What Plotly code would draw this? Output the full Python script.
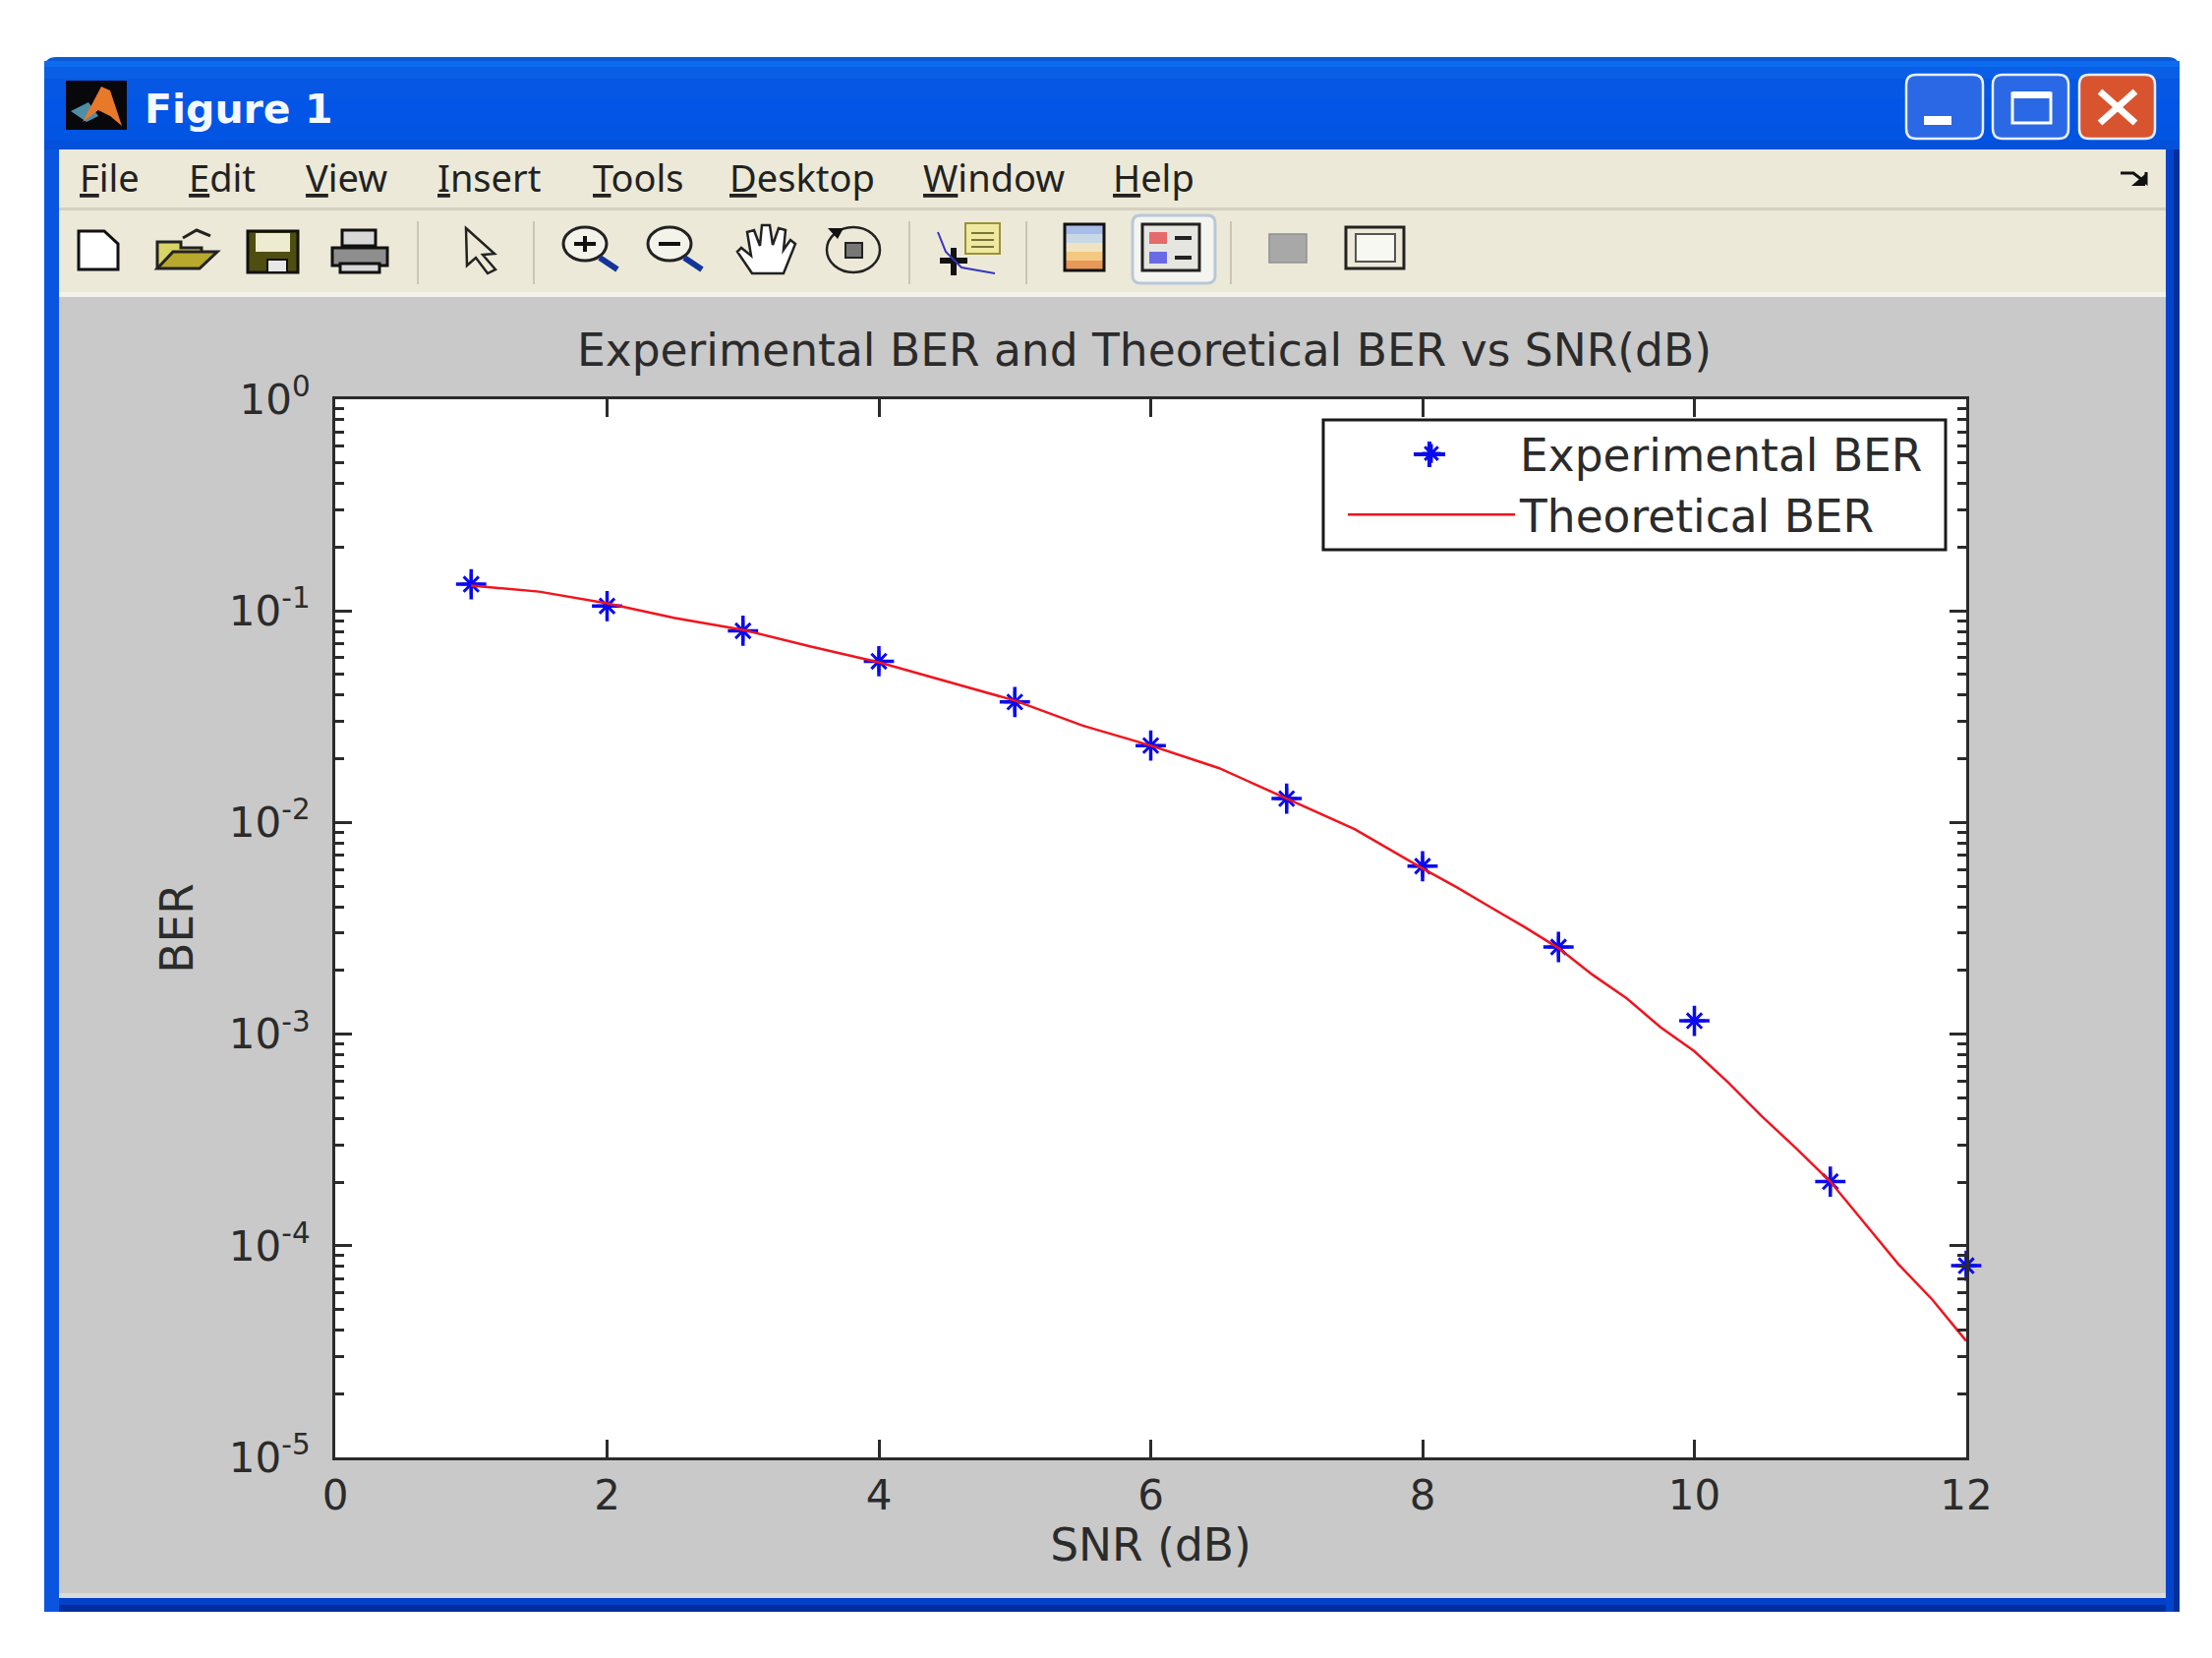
import plotly.graph_objects as go

# ---- chart data ----
snr_exp = [1, 2, 3, 4, 5, 6, 7, 8, 9, 10, 11, 12]
ber_exp = [0.1337, 0.1054, 0.0805, 0.0578, 0.0371, 0.0231, 0.01297, 0.00622,
           0.00258, 0.001156, 0.000201, 0.0000805]
snr_theory = [1, 1.5, 2, 2.5, 3, 3.5, 4, 4.5, 5, 5.5, 6, 6.5, 7, 7.5, 8, 8.25, 8.5, 8.75,
              9, 9.25, 9.5, 9.75, 10, 10.25, 10.5, 10.75, 11, 11.25, 11.5, 11.75, 12]
ber_theory = [0.1315, 0.1233, 0.1085, 0.0925, 0.0813, 0.0678, 0.0571, 0.0464,
              0.0377, 0.0287, 0.0231, 0.0181, 0.01296, 0.00931, 0.00607, 0.00495, 0.00398, 0.00321,
              0.00255, 0.00191, 0.00148, 0.00108, 0.00083, 0.00059, 0.000407, 0.000288,
              0.000201, 0.000128, 0.000082, 0.0000557, 0.0000355]
series_names = ["Experimental BER", "Theoretical BER"]
y_ticks = [1e-5, 1e-4, 1e-3, 1e-2, 1e-1, 1]
y_labels = ["10<sup>-5</sup>", "10<sup>-4</sup>", "10<sup>-3</sup>", "10<sup>-2</sup>", "10<sup>-1</sup>", "10<sup>0</sup>"]
x_ticks = [0, 2, 4, 6, 8, 10, 12]
menu_items = ["File", "Edit", "View", "Insert", "Tools", "Desktop", "Window", "Help"]
menu_left = [79, 190, 309, 443, 601, 740, 937, 1130]
chart_title = "Experimental BER and Theoretical BER vs SNR(dB)"
window_title = "Figure 1"

# ---- plot frame in pixels ----
W, H = 2250, 1686
L, R, T, B = 341, 2000, 406, 1482
FONT = "DejaVu Sans"
UI = "Noto Sans"
INK = "#2b2b2b"


def px(x):
    return (x - L) / (R - L)


def py(y):
    return (B - y) / (B - T)


shapes = []


def rect(x0, y0, x1, y1, fill=None, line=None, lw=0):
    shapes.append(dict(type="rect", xref="paper", yref="paper", x0=px(x0), x1=px(x1),
                       y0=py(y0), y1=py(y1), fillcolor=fill or "rgba(0,0,0,0)",
                       line=dict(color=line or "rgba(0,0,0,0)", width=lw), layer="below"))


def rrect(x0, y0, x1, y1, r, fill=None, line=None, lw=0):
    P = lambda x, y: f"{px(x):.5f},{py(y):.5f}"
    d = (f"M{P(x0 + r, y0)} L{P(x1 - r, y0)} Q{P(x1, y0)} {P(x1, y0 + r)} L{P(x1, y1 - r)} "
         f"Q{P(x1, y1)} {P(x1 - r, y1)} L{P(x0 + r, y1)} Q{P(x0, y1)} {P(x0, y1 - r)} "
         f"L{P(x0, y0 + r)} Q{P(x0, y0)} {P(x0 + r, y0)} Z")
    shapes.append(dict(type="path", xref="paper", yref="paper", path=d, fillcolor=fill or "rgba(0,0,0,0)",
                       line=dict(color=line or "rgba(0,0,0,0)", width=lw), layer="below"))


def poly(points, fill=None, line=None, lw=0, close=True):
    d = "M" + " L".join(f"{px(x):.5f},{py(y):.5f}" for x, y in points) + (" Z" if close else "")
    shapes.append(dict(type="path", xref="paper", yref="paper", path=d,
                       fillcolor=fill or "rgba(0,0,0,0)",
                       line=dict(color=line or "rgba(0,0,0,0)", width=lw), layer="below"))


def oval(cx, cy, rx, ry, fill=None, line=None, lw=0):
    shapes.append(dict(type="circle", xref="paper", yref="paper", x0=px(cx - rx), x1=px(cx + rx),
                       y0=py(cy - ry), y1=py(cy + ry), fillcolor=fill or "rgba(0,0,0,0)",
                       line=dict(color=line or "rgba(0,0,0,0)", width=lw), layer="below"))


def bands(x0, x1, stops):
    for (y0, y1, c) in stops:
        rect(x0, y0, x1, y1, fill=c)


# ---- window frame ----
rect(45, 70, 2217, 1639, fill="#0A3FC8")
rect(45, 1625, 2217, 1639, fill="#0440C8")
rect(45, 1632, 2217, 1639, fill="#022E9E")
rect(45, 70, 60, 1639, fill="#0A55E0")
rect(2203, 70, 2217, 1639, fill="#0344CC")
rect(2211, 70, 2217, 1639, fill="#02309A")
rrect(45, 58, 2217, 110, 12, fill="#0A5CD6")
bands(45, 2217, [(62, 68, "#0C6BEE"), (68, 80, "#0A5FE6"), (80, 100, "#0657E4"),
                 (100, 125, "#0255E6"), (125, 143, "#0254E2"), (143, 152, "#0350DA")])

# menu bar, toolbar, figure panel
rect(60, 152, 2203, 213, fill="#ECE9D8")
rect(60, 211, 2203, 214, fill="#D4D0C0")
rect(60, 214, 2203, 298, fill="#ECE9D8")
rect(60, 297, 2203, 302, fill="#F4F3EA")
rect(60, 302, 2203, 1625, fill="#C9C9C9")
rect(60, 1620, 2203, 1625, fill="#DADADA")
rect(L, T, R, B, fill="white")

# legend box, and the long arms of its star marker (under the legend's own symbol)
rect(1346, 427, 1979, 559, fill="white", line="#1a1a1a", lw=3)
rect(1452, 449, 1456, 475, fill="#0A0AF0")
rect(1438, 460, 1470, 464, fill="#0A0AF0")

# matlab icon
rect(67, 82, 129, 132, fill="#08080C")
poly([(72, 113), (90, 104), (100, 118), (88, 124)], fill="#4E8FA8")
poly([(84, 124), (103, 88), (112, 92), (124, 128), (112, 118), (100, 112)], fill="#E8782A")

# window buttons
for x0, x1, col in [(1939, 2017, "#2A68E6"), (2027, 2104, "#2A68E6"), (2115, 2192, "#D8542E")]:
    rrect(x0, 76, x1, 141, 10, fill=col, line="#E8EEFA", lw=2.5)
rect(1957, 118, 1985, 127, fill="white")
rect(2047, 95, 2086, 125, line="white", lw=3)
rect(2047, 93, 2086, 100, fill="white")
poly([(2136, 93), (2172, 125)], line="white", lw=7, close=False)
poly([(2172, 93), (2136, 125)], line="white", lw=7, close=False)

# overflow arrow
poly([(2157, 176), (2170, 176), (2183, 186), (2183, 175)], line="#111", lw=3, close=False)
poly([(2182, 189), (2168, 189), (2182, 177)], fill="#111")

# toolbar separators
for xs in [425, 543, 925, 1044, 1252]:
    rect(xs - 1, 225, xs + 1, 289, fill="#C9C6B4")

# new document
poly([(80, 235), (106, 235), (120, 248), (120, 274), (80, 274)], fill="white", line="#111", lw=3)
# open folder
poly([(160, 272), (160, 246), (184, 246), (184, 252), (205, 252), (205, 258)], fill="#D8D468", line="#222", lw=3)
poly([(160, 273), (176, 256), (221, 256), (203, 273)], fill="#B8A82C", line="#222", lw=3)
poly([(186, 242), (200, 234), (214, 240)], line="#222", lw=3, close=False)
# save
rect(252, 235, 303, 277, fill="#4E4E10", line="#111", lw=3)
rect(260, 237, 295, 256, fill="#EDEBD0")
rect(272, 264, 292, 277, fill="#E8E8E8", line="#111", lw=2)
# print
rect(348, 234, 382, 250, fill="#D8D8D8", line="#111", lw=3)
poly([(338, 252), (394, 252), (394, 270), (338, 270)], fill="#8E8E8E", line="#111", lw=3)
rect(346, 268, 386, 277, fill="#D8D8D8", line="#111", lw=3)
# arrow
poly([(474, 232), (503, 258), (491, 259), (504, 274), (496, 278), (484, 262), (475, 270)],
     fill="#ECE9D8", line="#222", lw=2.5)
# zoom in / out
for cx, plus in [(595, True), (681, False)]:
    oval(cx, 248, 22, 17, fill="#F4F3EA", line="#222", lw=3)
    poly([(cx + 15, 262), (cx + 33, 274)], line="#14349A", lw=6, close=False)
    rect(cx - 11, 246, cx + 11, 250, fill="#111")
    if plus:
        rect(cx - 2, 240, cx + 2, 256, fill="#111")
# hand
poly([(765, 278), (750, 256), (754, 252), (764, 260), (760, 236), (767, 234), (773, 250),
      (775, 229), (783, 229), (786, 249), (792, 232), (799, 234), (797, 254), (804, 244),
      (809, 248), (797, 278)], fill="white", line="#222", lw=2.5)
# rotate
oval(868, 254, 27, 23, fill="#ECE9D8", line="#222", lw=2.5)
rect(860, 247, 877, 262, fill="#777", line="#222", lw=2)
poly([(842, 232), (858, 232), (852, 243)], fill="#111")
# data cursor
rect(982, 227, 1017, 258, fill="#F0E8A0", line="#99933A", lw=2)
for yl in [236, 243, 250]:
    rect(988, yl, 1011, yl + 2, fill="#77763a")
rect(967, 252, 973, 280, fill="#111")
rect(956, 262, 984, 268, fill="#111")
poly([(954, 236), (962, 256), (978, 272), (1012, 278)], line="#3636C0", lw=2, close=False)
# colorbar
bands(1084, 1122, [(229, 238, "#A8BCE8"), (238, 247, "#C8D8E8"), (247, 256, "#F0E4C0"),
                   (256, 265, "#F4C880"), (265, 274, "#E89858")])
rect(1083, 228, 1123, 275, line="#111", lw=3)
# legend toggle (pressed)
rrect(1152, 219, 1236, 288, 8, fill="#F4F5F0", line="#B8C8D8", lw=3)
rect(1162, 228, 1220, 275, fill="#E6E6E0", line="#222", lw=3)
rect(1169, 236, 1187, 248, fill="#E66A6A")
rect(1169, 256, 1187, 268, fill="#6A6AE6")
rect(1195, 240, 1212, 244, fill="#222")
rect(1195, 260, 1212, 264, fill="#222")
# hide plot tools / show plot tools
rect(1291, 238, 1329, 267, fill="#A8A8A8", line="#909090", lw=1.5)
rect(1369, 231, 1428, 273, fill="#ECE9D8", line="#222", lw=3)
rect(1379, 238, 1419, 266, fill="#F8F8F2", line="#555", lw=2)

# ---- window text ----
annotations = [dict(text=f"<b>{window_title}</b>", x=px(145), y=py(111), xref="paper", yref="paper",
                    xanchor="left", yanchor="middle", showarrow=False,
                    font=dict(family="DejaVu Sans", size=41, color="#F4F8FF"))]
for item, left in zip(menu_items, menu_left):
    annotations.append(dict(text=f"<u>{item[0]}</u>{item[1:]}", x=px(left), y=py(180), xref="paper", yref="paper",
                            xanchor="left", yanchor="middle", showarrow=False,
                            font=dict(family=UI, size=38, color="#222")))

# ---- the chart itself ----
fig = go.Figure()
fig.add_trace(go.Scatter(x=snr_exp, y=ber_exp, mode="markers", name=series_names[0], cliponaxis=False,
                         marker=dict(symbol="asterisk-open", size=18, color="#0A0AF0",
                                     line=dict(color="#0A0AF0", width=3))))
fig.add_trace(go.Scatter(x=snr_exp, y=ber_exp, mode="markers", showlegend=False, cliponaxis=False,
                         hoverinfo="skip",
                         marker=dict(symbol="cross-thin-open", size=22, color="#0A0AF0",
                                     line=dict(color="#0A0AF0", width=3.5))))
fig.add_trace(go.Scatter(x=snr_theory, y=ber_theory, mode="lines", name=series_names[1], cliponaxis=False,
                         line=dict(color="#F0141E", width=2.5)))

minor_y = [m * 10 ** e for e in range(-5, 0) for m in range(2, 10)]
tick_font = dict(family=FONT, size=42, color=INK)
text_font = dict(family=FONT, size=45.5, color=INK)

fig.update_layout(
    width=W, height=H, autosize=False,
    margin=dict(l=L, r=W - R, t=T, b=H - B, pad=0),
    paper_bgcolor="white", plot_bgcolor="white",
    font=tick_font,
    shapes=shapes, annotations=annotations,
    title=dict(text=chart_title, font=text_font,
               xref="paper", x=px(1164), xanchor="center", yref="container", y=1 - 356 / H, yanchor="middle"),
    xaxis=dict(range=[0, 12], tickvals=x_ticks, ticks="inside", ticklen=18, tickwidth=3, tickcolor=INK,
               showgrid=False, zeroline=False, showline=True, linecolor=INK, linewidth=3, mirror="ticks",
               tickfont=tick_font, title=dict(text="SNR (dB)", font=text_font, standoff=8)),
    yaxis=dict(type="log", range=[-5, 0], tickvals=y_ticks, ticktext=y_labels, ticks="inside", ticklen=17,
               tickwidth=3, tickcolor=INK, showgrid=False, zeroline=False, showline=True, linecolor=INK,
               linewidth=3, mirror="ticks", tickfont=tick_font, ticklabelstandoff=14,
               minor=dict(tickvals=minor_y, ticks="inside", ticklen=9, tickwidth=2.5, tickcolor=INK, showgrid=False),
               title=dict(text="BER", font=text_font, standoff=22)),
    legend=dict(x=px(1348), y=py(425), xanchor="left", yanchor="top", bgcolor="rgba(255,255,255,0)",
                borderwidth=0, itemwidth=170, indentation=18, tracegroupgap=0, font=text_font),
    showlegend=True,
)

fig.write_html("out.html", config={"displayModeBar": False},
               post_script="document.body.style.margin='0';document.body.style.overflow='hidden';")
